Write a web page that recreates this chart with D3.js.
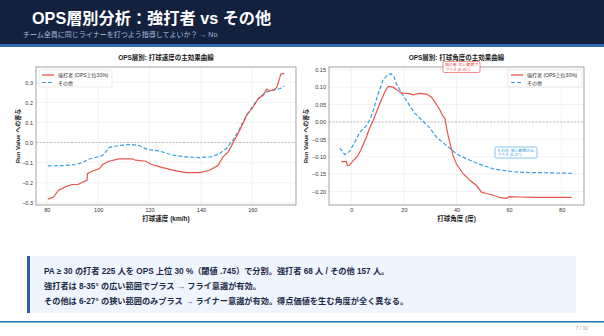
<!DOCTYPE html>
<html><head><meta charset="utf-8">
<script src="https://cdn.jsdelivr.net/npm/d3@7"></script>
<style>
body{margin:0;background:#fff;}
svg{display:block;font-family:"Liberation Sans","Noto Sans CJK JP",sans-serif;}
</style></head>
<body><svg id="c" width="604" height="336"></svg>
<script>
// Exit-velocity main-effect curves (km/h → run value contribution)
const speedStrong = [[80.4,-0.282],[82.6,-0.271],[84.6,-0.237],[87.2,-0.221],[89.8,-0.209],[92.2,-0.208],[93.7,-0.199],[95.0,-0.191],[95.7,-0.188],[95.8,-0.155],[97.6,-0.143],[99.9,-0.133],[100.9,-0.125],[101.6,-0.110],[104.2,-0.093],[108.1,-0.081],[113.3,-0.081],[114.6,-0.088],[118.6,-0.093],[120.5,-0.108],[125.1,-0.125],[130.3,-0.141],[134.2,-0.150],[139.5,-0.150],[143.4,-0.138],[146.7,-0.113],[148.6,-0.071],[150.6,-0.047],[152.5,-0.002],[155.1,0.061],[157.8,0.136],[160.4,0.178],[162.3,0.219],[164.3,0.236],[165.6,0.266],[166.9,0.257],[168.2,0.261],[169.5,0.274],[170.2,0.302],[171.1,0.341],[172.4,0.344]];
const speedOther = [[80.4,-0.116],[85.9,-0.115],[91.1,-0.110],[93.7,-0.101],[96.3,-0.083],[100.9,-0.068],[102.2,-0.060],[103.5,-0.038],[104.2,-0.025],[108.1,-0.015],[112.7,-0.010],[116.0,-0.015],[119.2,-0.035],[123.8,-0.042],[129.0,-0.063],[134.2,-0.071],[139.5,-0.075],[144.1,-0.071],[147.3,-0.055],[149.9,-0.030],[152.5,0.012],[155.1,0.070],[157.8,0.136],[160.4,0.186],[163.0,0.228],[165.6,0.252],[168.2,0.261],[170.8,0.269],[172.4,0.281]];
// Launch-angle main-effect curves (degrees → run value contribution)
const angleStrong = [[-3.8,-0.114],[-1.9,-0.114],[-1.5,-0.126],[-0.6,-0.124],[0.6,-0.112],[2.5,-0.097],[3.8,-0.078],[5.7,-0.044],[7.0,-0.017],[8.3,0.004],[10.8,0.052],[12.7,0.086],[14.0,0.102],[15.9,0.100],[17.8,0.090],[19.0,0.083],[21.6,0.082],[23.5,0.078],[26.0,0.082],[28.6,0.080],[30.5,0.071],[32.4,0.050],[33.7,0.034],[34.7,0.018],[35.6,0.009],[36.4,-0.025],[37.5,-0.061],[38.7,-0.097],[40.0,-0.121],[42.5,-0.149],[45.1,-0.168],[47.6,-0.183],[49.5,-0.202],[51.4,-0.206],[54.0,-0.211],[56.5,-0.218],[59.0,-0.220],[60.1,-0.215],[64.1,-0.216],[69.2,-0.217],[83.8,-0.217]];
const angleOther = [[-4.4,-0.075],[-2.5,-0.094],[-0.6,-0.084],[1.3,-0.058],[3.2,-0.030],[5.7,-0.011],[7.0,0.006],[8.3,0.032],[10.2,0.081],[12.1,0.121],[14.0,0.137],[15.2,0.138],[16.3,0.129],[17.1,0.110],[19.7,0.076],[22.2,0.047],[24.1,0.025],[27.3,0.002],[29.8,-0.017],[32.4,-0.044],[36.2,-0.068],[40.0,-0.092],[43.8,-0.106],[48.9,-0.122],[54.0,-0.135],[59.0,-0.141],[64.1,-0.145],[71.7,-0.146],[84.4,-0.148]];

const speedXTicks = [80,100,120,140,160];
const speedYTicks = [-0.3,-0.2,-0.1,0.0,0.1,0.2,0.3];
const angleXTicks = [0,20,40,60,80];
const angleYTicks = [-0.20,-0.15,-0.10,-0.05,0.00,0.05,0.10,0.15];
const seriesNames = ["強打者 (OPS上位30%)","その他"];
const notes = [
  "PA ≥ 30 の打者 225 人を OPS 上位 30 %（閾値 .745）で分割。強打者 68 人 / その他 157 人。",
  "強打者は 8-35° の広い範囲でプラス → フライ意識が有効。",
  "その他は 6-27° の狭い範囲のみプラス → ライナー意識が有効。得点価値を生む角度が全く異なる。"
];

const RED = "#e8453c", BLUE = "#3aa0e0";
const svg = d3.select("#c");

// header band
svg.append("rect").attr("x",0).attr("y",0).attr("width",604).attr("height",44).attr("fill","#13213f");
svg.append("rect").attr("x",0).attr("y",44).attr("width",604).attr("height",3).attr("fill","#2b6cb3");
svg.append("text").attr("x",32).attr("y",24).attr("fill","#fff").attr("font-size",16.2).attr("font-weight","bold")
  .text("OPS層別分析：強打者 vs その他");
svg.append("text").attr("x",23).attr("y",37).attr("fill","#a9bddb").attr("font-size",7)
  .text("チーム全員に同じライナーを打つよう指導してよいか？ → No");

function panel(o){
  const g = svg.append("g");
  const x = d3.scaleLinear().domain(o.xd).range([o.l,o.r]);
  const y = d3.scaleLinear().domain(o.yd).range([o.b,o.t]);
  g.append("rect").attr("x",o.l).attr("y",o.t).attr("width",o.r-o.l).attr("height",o.b-o.t)
    .attr("fill","#fff");
  // grid
  g.append("g").selectAll("line").data(o.xt).join("line")
    .attr("x1",d=>x(d)).attr("x2",d=>x(d)).attr("y1",o.t).attr("y2",o.b)
    .attr("stroke","#ebebeb").attr("stroke-width",0.6);
  g.append("g").selectAll("line").data(o.yt).join("line")
    .attr("x1",o.l).attr("x2",o.r).attr("y1",d=>y(d)).attr("y2",d=>y(d))
    .attr("stroke","#ebebeb").attr("stroke-width",0.6);
  // zero reference
  g.append("line").attr("x1",o.l).attr("x2",o.r).attr("y1",y(0)).attr("y2",y(0))
    .attr("stroke","#999").attr("stroke-width",0.6).attr("stroke-dasharray","2,1.5");
  // axes
  const ax = g.append("g").attr("transform",`translate(0,${o.b})`)
    .call(d3.axisBottom(x).tickValues(o.xt).tickFormat(d3.format("d")).tickSize(0).tickPadding(3));
  const ay = g.append("g").attr("transform",`translate(${o.l},0)`)
    .call(d3.axisLeft(y).tickValues(o.yt).tickFormat(d3.format(o.yf)).tickSize(0).tickPadding(3));
  [ax,ay].forEach(a=>{a.select(".domain").remove();
    a.selectAll("text").attr("font-size",5.5).attr("fill","#333").attr("font-family","Liberation Sans, sans-serif");});
  // frame
  g.append("rect").attr("x",o.l).attr("y",o.t).attr("width",o.r-o.l).attr("height",o.b-o.t)
    .attr("fill","none").attr("stroke","#9a9a9a").attr("stroke-width",0.9);
  const line = d3.line().x(d=>x(d[0])).y(d=>y(d[1]));
  g.append("path").datum(o.s2).attr("d",line).attr("fill","none").attr("stroke",BLUE)
    .attr("stroke-width",1.2).attr("stroke-dasharray","4,2");
  g.append("path").datum(o.s1).attr("d",line).attr("fill","none").attr("stroke",RED)
    .attr("stroke-width",1.2).attr("opacity",0.92);
  // titles
  g.append("text").attr("x",(o.l+o.r)/2).attr("y",60).attr("text-anchor","middle")
    .attr("font-size",6.5).attr("font-weight","bold").attr("fill","#222").text(o.title);
  g.append("text").attr("x",(o.l+o.r)/2).attr("y",221).attr("text-anchor","middle")
    .attr("font-size",6.5).attr("font-weight","bold").attr("fill","#222").text(o.xlabel);
  g.append("text").attr("transform",`translate(${o.l-o.yo},${(o.t+o.b)/2}) rotate(-90)`).attr("text-anchor","middle")
    .attr("font-size",6).attr("font-weight","bold").attr("fill","#222").text("Run Value への寄与");
  // legend
  const lg = g.append("g").attr("transform",`translate(${o.lx},${o.ly})`);
  lg.append("rect").attr("width",o.lw).attr("height",17).attr("rx",1.5).attr("fill","#fff")
    .attr("fill-opacity",0.85).attr("stroke","#ddd").attr("stroke-width",0.6);
  lg.append("line").attr("x1",3).attr("x2",15).attr("y1",5).attr("y2",5).attr("stroke",RED).attr("stroke-width",1.2);
  lg.append("line").attr("x1",3).attr("x2",15).attr("y1",12.5).attr("y2",12.5).attr("stroke",BLUE).attr("stroke-width",1.2).attr("stroke-dasharray","4,2");
  lg.append("text").attr("x",19).attr("y",7).attr("font-size",5).attr("fill","#333").text(seriesNames[0]);
  lg.append("text").attr("x",19).attr("y",14.5).attr("font-size",5).attr("fill","#333").text(seriesNames[1]);
  return {x,y,g};
}

panel({l:36,r:296,t:67,b:205,xd:[75.8,177],yd:[-0.311,0.376],xt:speedXTicks,yt:speedYTicks,yf:".1f",yo:16,
  s1:speedStrong,s2:speedOther,title:"OPS層別: 打球速度の主効果曲線",xlabel:"打球速度 (km/h)",lx:39,ly:70,lw:73});
const p2 = panel({l:329,r:584,t:67,b:205,xd:[-8.5,88.5],yd:[-0.239,0.158],xt:angleXTicks,yt:angleYTicks,yf:".2f",yo:21,
  s1:angleStrong,s2:angleOther,title:"OPS層別: 打球角度の主効果曲線",xlabel:"打球角度 (度)",lx:508,ly:70,lw:74});

// annotation boxes
function note(g,x,y,lines,col,w){
  const b = g.append("g").attr("transform",`translate(${x},${y})`);
  b.append("rect").attr("width",w).attr("height",11).attr("rx",1.5).attr("fill","#fff")
    .attr("fill-opacity",0.9).attr("stroke",col).attr("stroke-width",0.6);
  lines.forEach((t,i)=>b.append("text").attr("x",2).attr("y",4.6+i*4.8).attr("font-size",3.9).attr("fill",col).text(t));
}
note(p2.g,443,61.5,["強打者: 広い範囲で","プラス (8-35°)"],RED,37);
note(p2.g,495,147,["その他: 狭い範囲のみ","プラス (6-27°)"],BLUE,42);

// summary callout
svg.append("rect").attr("x",27).attr("y",256).attr("width",549).attr("height",57).attr("fill","#eef5fc");
svg.append("rect").attr("x",27).attr("y",256).attr("width",3).attr("height",57).attr("fill","#2b5fa3");
notes.forEach((t,i)=>svg.append("text").attr("x",44).attr("y",274+i*15).attr("font-size",8.2)
  .attr("font-weight","bold").attr("fill","#1c2a4a").text(t));

// footer
svg.append("rect").attr("x",0).attr("y",321).attr("width",604).attr("height",1.5).attr("fill","#2b6cb3");
svg.append("text").attr("x",588).attr("y",330).attr("text-anchor","end").attr("font-size",5).attr("fill","#aaa").text("7 / 30");
</script></body></html>
